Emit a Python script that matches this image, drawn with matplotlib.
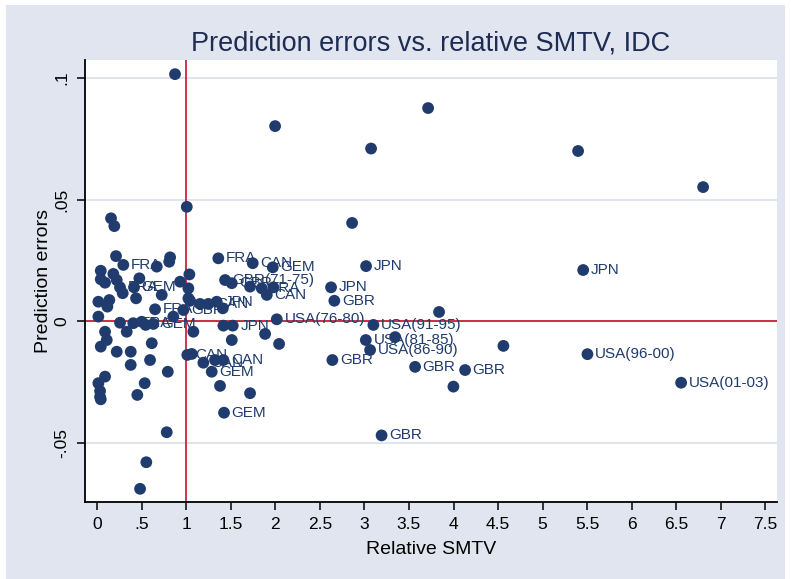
import numpy as np
import matplotlib.pyplot as plt
from matplotlib.patches import Rectangle

plt.rcParams['font.family'] = ['Liberation Sans', 'DejaVu Sans']

# relative SMTV (x) and prediction errors (y)
smtv = [1.007, 0.157, 0.194, 0.213, 0.295, 0.670, 0.810, 0.820, 1.036, 0.042,
        0.042, 0.183, 0.090, 0.221, 0.475, 0.932, 0.258, 0.288, 0.415, 0.438,
        0.726, 1.025, 1.025, 1.361, 1.747, 1.972, 1.437, 1.512, 1.717, 1.848,
        1.905, 1.979, 2.626, 2.663, 0.015, 0.138, 0.116, 0.015, 0.651, 1.044,
        1.156, 1.249, 1.343, 1.411, 0.969, 0.856, 0.258, 0.333, 0.407, 0.502,
        0.632, 1.081, 1.418, 1.523, 2.017, 1.886, 2.043, 0.090, 0.109, 0.042,
        0.221, 0.378, 0.614, 0.378, 0.595, 0.794, 1.013, 1.063, 1.193, 1.324,
        1.418, 1.287, 1.512, 1.380, 1.717, 1.425, 2.641, 3.019, 3.101, 3.016,
        3.345, 3.064, 3.838, 3.569, 3.193, 4.560, 4.130, 3.999, 5.503, 6.554,
        5.455, 0.875, 1.998, 3.715, 3.075, 5.398, 6.801, 2.862, 0.015, 0.034,
        0.034, 0.042, 0.090, 0.535, 0.452, 0.782, 0.553, 0.483, 0.546]
errors = [0.0470, 0.0423, 0.0391, 0.0268, 0.0232, 0.0225, 0.0245, 0.0263, 0.0193, 0.0208,
          0.0173, 0.0195, 0.0159, 0.0170, 0.0177, 0.0163, 0.0140, 0.0116, 0.0140, 0.0095,
          0.0109, 0.0136, 0.0095, 0.0259, 0.0239, 0.0222, 0.0170, 0.0157, 0.0143, 0.0136,
          0.0109, 0.0140, 0.0140, 0.0085, 0.0081, 0.0088, 0.0061, 0.0020, 0.0050, 0.0085,
          0.0072, 0.0072, 0.0081, 0.0054, 0.0047, 0.0020, -0.0005, -0.0042, -0.0007, -0.0001,
          -0.0010, -0.0042, -0.0017, -0.0017, 0.0009, -0.0051, -0.0092, -0.0042, -0.0076, -0.0103,
          -0.0124, -0.0124, -0.0089, -0.0178, -0.0158, -0.0206, -0.0137, -0.0133, -0.0169, -0.0158,
          -0.0158, -0.0206, -0.0076, -0.0264, -0.0294, -0.0374, -0.0158, 0.0227, -0.0014, -0.0076,
          -0.0064, -0.0117, 0.0039, -0.0186, -0.0467, -0.0100, -0.0199, -0.0267, -0.0134, -0.0251,
          0.0211, 0.1014, 0.0801, 0.0875, 0.0709, 0.0699, 0.0551, 0.0404, -0.0253, -0.0285,
          -0.0309, -0.0319, -0.0226, -0.0253, -0.0301, -0.0454, -0.0577, -0.0686, -0.0014]

# marker labels (index into the arrays above)
labels = {4: 'FRA', 16: 'FRA', 18: 'GEM', 23: 'FRA', 24: 'CAN', 25: 'GEM',
          26: 'GBR(71-75)', 27: 'GBR', 29: 'FRA', 30: 'CAN', 32: 'JPN', 33: 'GBR',
          38: 'FRA', 41: 'CAN', 42: 'JPN', 44: 'GBR', 48: 'FRA', 50: 'GEM',
          53: 'JPN', 54: 'USA(76-80)', 66: 'CAN', 68: 'CAN', 70: 'CAN', 71: 'GEM',
          75: 'GEM', 76: 'GBR', 77: 'JPN', 78: 'USA(91-95)', 79: 'USA(81-85)',
          81: 'USA(86-90)', 83: 'GBR', 84: 'GBR', 86: 'GBR', 88: 'USA(96-00)',
          89: 'USA(01-03)', 90: 'JPN'}

x_ticks = np.arange(0, 7.51, 0.5)
x_ticklabels = ['0', '.5', '1', '1.5', '2', '2.5', '3', '3.5', '4', '4.5',
                '5', '5.5', '6', '6.5', '7', '7.5']
y_ticks = [-0.05, 0, 0.05, 0.1]
y_ticklabels = ['-.05', '0', '.05', '.1']

navy = '#203B6D'
bg = '#E0E5EF'

fig = plt.figure(figsize=(7.91, 5.79), dpi=100, facecolor='white')
fig.patches.append(Rectangle((6/791, 0), 779/791, 574/579, transform=fig.transFigure,
                             facecolor=bg, edgecolor='none', zorder=-10))

ax = fig.add_axes([85/791, 77/579, 692/791, 442/579])
ax.set_facecolor('white')

for yt in y_ticks:
    ax.axhline(yt, color='#DCE2EC', lw=1.3, zorder=1)
ax.axhline(0, color='#C8102E', lw=1.2, zorder=2)
ax.axvline(1, color='#C8102E', lw=1.2, zorder=2)

ax.scatter(smtv, errors, s=72, color=navy, edgecolors='none', zorder=3)
for i, txt in labels.items():
    ax.annotate(txt, (smtv[i], errors[i]), xytext=(5.5, 0), textcoords='offset points',
                ha='left', va='center', fontsize=11, color=navy, zorder=4)

ax.set_xlim(-0.135, 7.63)
ax.set_ylim(-0.074, 0.1072)
ax.set_xticks(x_ticks)
ax.set_xticklabels(x_ticklabels)
ax.set_yticks(y_ticks)
ax.set_yticklabels(y_ticklabels, rotation=90, va='center')
ax.tick_params(axis='both', length=6, width=1.1, labelsize=12.5, pad=5, color='black')

for s in ['top', 'right']:
    ax.spines[s].set_visible(False)
for s in ['left', 'bottom']:
    ax.spines[s].set_linewidth(1.3)

ax.set_xlabel('Relative SMTV', fontsize=14, labelpad=6)
ax.set_ylabel('Prediction errors', fontsize=14, labelpad=2)

fig.text(431/791, 1 - 43/579, 'Prediction errors vs. relative SMTV, IDC',
         ha='center', va='center', fontsize=19.5, color='#1E2B52')

fig.savefig('out.png', dpi=100, facecolor=fig.get_facecolor())
